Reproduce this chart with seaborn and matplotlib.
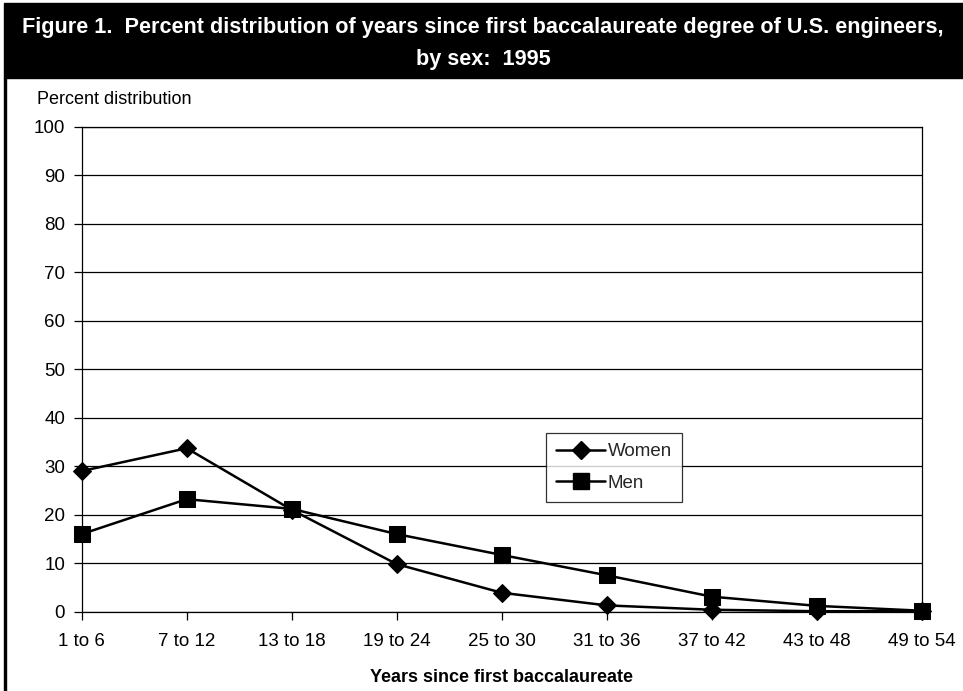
import matplotlib
matplotlib.use("Agg")
import matplotlib.pyplot as plt
import matplotlib.patches as mpatches
from matplotlib.lines import Line2D
import seaborn as sns
import pandas as pd

# Data
categories = ["1 to 6", "7 to 12", "13 to 18", "19 to 24", "25 to 30",
              "31 to 36", "37 to 42", "43 to 48", "49 to 54"]
women = [29.0, 33.7, 21.0, 9.8, 3.9, 1.3, 0.4, 0.1, 0.1]
men = [16.0, 23.2, 21.2, 16.0, 11.7, 7.5, 3.1, 1.2, 0.2]
y_ticks = [0, 10, 20, 30, 40, 50, 60, 70, 80, 90, 100]

sns.set_theme(style="white")
plt.rcParams["font.family"] = ["Liberation Sans", "DejaVu Sans"]

df = pd.DataFrame({
    "years": categories * 2,
    "pct": women + men,
    "sex": ["Women"] * len(categories) + ["Men"] * len(categories),
})

fig = plt.figure(figsize=(9.63, 6.91), dpi=100)
ax = fig.add_axes([81.7 / 963, (691 - 611.7) / 691, (922 - 81.7) / 963, (611.7 - 126.7) / 691])

# Women: diamonds, Men: squares
sns.lineplot(data=df[df.sex == "Women"], x="years", y="pct", color="black",
             marker="D", markersize=9.5, markeredgecolor="black", linewidth=1.8,
             ax=ax, sort=False, zorder=3, clip_on=False)
sns.lineplot(data=df[df.sex == "Men"], x="years", y="pct", color="black",
             marker="s", markersize=11.5, markeredgecolor="black", linewidth=1.8,
             ax=ax, sort=False, zorder=3, clip_on=False)

ax.set_xlim(0, len(categories) - 1)
ax.set_ylim(0, 100)
ax.set_yticks(y_ticks)
ax.set_xticks(range(len(categories)))
ax.set_xticklabels(categories)
ax.yaxis.grid(True, color="black", linewidth=0.9)
ax.set_axisbelow(True)
for s in ax.spines.values():
    s.set_color("black")
    s.set_linewidth(0.9)
ax.tick_params(axis="both", which="both", direction="out", length=6, width=0.9,
               color="black", labelsize=13.5, labelcolor="black",
               bottom=True, left=True)
ax.tick_params(axis="x", pad=9)
ax.tick_params(axis="y", pad=6)
ax.set_ylabel("")
ax.set_xlabel("Years since first baccalaureate", fontsize=13, fontweight="bold",
              color="black", labelpad=14)

handles = [
    Line2D([], [], color="black", marker="D", markersize=9.5, linewidth=1.8),
    Line2D([], [], color="black", marker="s", markersize=11.5, linewidth=1.8),
]
leg = ax.legend(handles, ["Women", "Men"], loc="upper left",
                bbox_to_anchor=((546 - 81.7) / (922 - 81.7), (611.7 - 433) / 485),
                fontsize=13.5, frameon=True, fancybox=False, edgecolor="black",
                handlelength=2.6, handletextpad=0.15, borderpad=0.55,
                labelspacing=0.75, borderaxespad=0)
leg.get_frame().set_linewidth(0.9)

fig.text(37 / 963, 1 - 100 / 691, "Percent distribution", fontsize=13,
         ha="left", va="center", color="black")

# Title band and left frame line
fig.patches.append(mpatches.Rectangle((4 / 963, 1 - 78 / 691), 1, 75 / 691,
                                      transform=fig.transFigure, color="black",
                                      zorder=0))
fig.patches.append(mpatches.Rectangle((4 / 963, 0), 1.5 / 963, 1 - 78 / 691,
                                      transform=fig.transFigure, color="black",
                                      zorder=0))
fig.text(483 / 963, 1 - 28 / 691,
         "Figure 1.  Percent distribution of years since first baccalaureate degree of U.S. engineers,",
         fontsize=15.6, fontweight="bold", color="white", ha="center", va="center")
fig.text(483 / 963, 1 - 60 / 691, "by sex:  1995",
         fontsize=15.6, fontweight="bold", color="white", ha="center", va="center")

fig.savefig("out.png", dpi=100)
